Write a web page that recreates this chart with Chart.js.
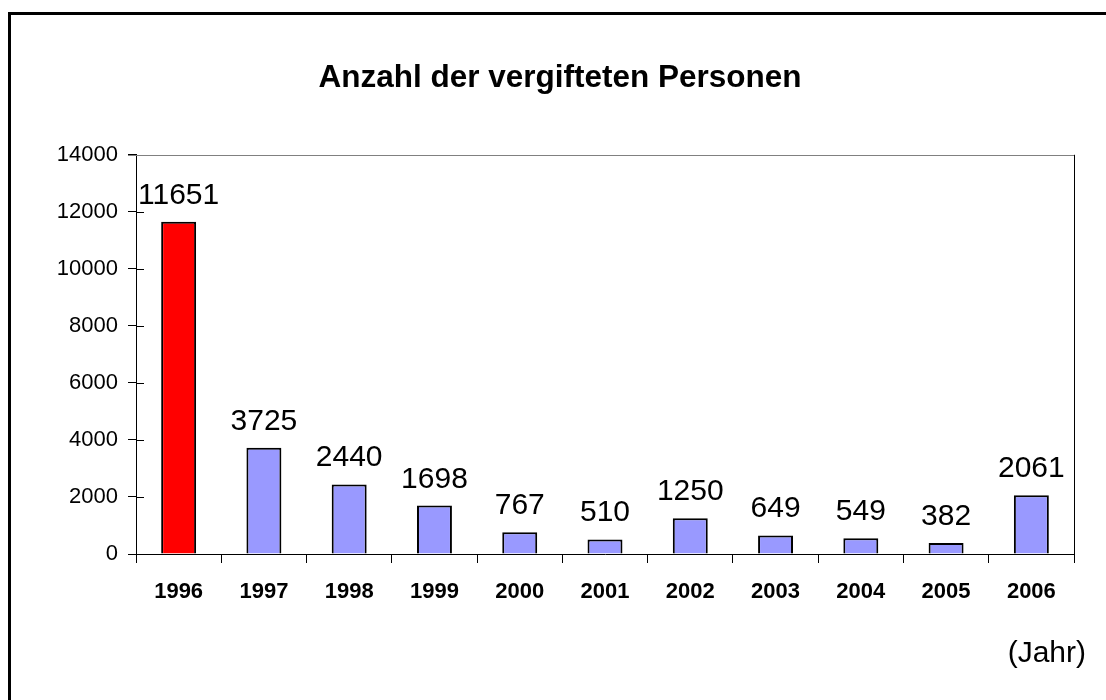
<!DOCTYPE html>
<html>
<head>
<meta charset="utf-8">
<script src="https://cdn.jsdelivr.net/npm/chart.js@4/dist/chart.umd.min.js"></script>
<style>
  html, body { margin: 0; padding: 0; background: #fff; overflow: hidden; }
  #wrap { position: relative; width: 1106px; height: 700px; }
  #frame { position: absolute; left: 8px; top: 12px; width: 1200px; height: 800px; border: 3px solid #000; box-sizing: border-box; pointer-events: none; }
  canvas { position: absolute; left: 0; top: 0; }
</style>
</head>
<body>
<div id="wrap">
  <canvas id="c" width="1106" height="700"></canvas>
  <div id="frame"></div>
</div>
<script>
const years = ['1996', '1997', '1998', '1999', '2000', '2001', '2002', '2003', '2004', '2005', '2006'];
const poisoned = [11651, 3725, 2440, 1698, 767, 510, 1250, 649, 549, 382, 2061];
const barColors = ['#FF0000', '#9999FF', '#9999FF', '#9999FF', '#9999FF', '#9999FF', '#9999FF', '#9999FF', '#9999FF', '#9999FF', '#9999FF'];
const yTickValues = [0, 2000, 4000, 6000, 8000, 10000, 12000, 14000];
const titleText = 'Anzahl der vergifteten Personen';
const unitText = '(Jahr)';

const FONT = '"Liberation Sans", Arial, sans-serif';

const decorPlugin = {
  id: 'decor',
  afterDatasetsDraw(chart) {
    const ctx = chart.ctx;
    const a = chart.chartArea;
    const y = chart.scales.y;
    ctx.save();
    ctx.lineWidth = 1;
    ctx.strokeStyle = '#808080';
    ctx.beginPath();
    ctx.moveTo(a.left - 8, Math.round(a.top) + 0.5);
    ctx.lineTo(a.right, Math.round(a.top) + 0.5);
    ctx.stroke();
    ctx.strokeStyle = '#000';
    ctx.beginPath();
    ctx.moveTo(Math.round(a.right) + 0.5, a.top);
    ctx.lineTo(Math.round(a.right) + 0.5, a.bottom + 8);
    ctx.stroke();
    yTickValues.forEach(v => {
      if (v === 14000) return;
      const py = Math.round(y.getPixelForValue(v)) + 0.5;
      ctx.beginPath();
      ctx.moveTo(a.left, py);
      ctx.lineTo(a.left + 8, py);
      ctx.stroke();
    });
    const meta = chart.getDatasetMeta(0);
    ctx.fillStyle = '#000';
    ctx.font = '30px ' + FONT;
    ctx.textAlign = 'center';
    ctx.textBaseline = 'alphabetic';
    meta.data.forEach((bar, i) => {
      ctx.fillText(String(poisoned[i]), bar.x, bar.y - 18);
    });
    ctx.font = '30px ' + FONT;
    ctx.textAlign = 'right';
    ctx.fillText(unitText, a.right + 12, 662);
    ctx.restore();
  }
};

new Chart(document.getElementById('c'), {
  type: 'bar',
  data: {
    labels: years,
    datasets: [{
      data: poisoned,
      backgroundColor: barColors,
      borderColor: '#000',
      borderWidth: 2,
      categoryPercentage: 1.0,
      barPercentage: 0.41
    }]
  },
  options: {
    responsive: false,
    animation: false,
    events: [],
    layout: { padding: { left: 46, right: 32, top: 0, bottom: 0 } },
    plugins: {
      legend: { display: false },
      tooltip: { enabled: false },
      title: {
        display: true,
        text: titleText,
        color: '#000',
        font: { family: FONT, size: 31.5, weight: 'bold', lineHeight: 1.2 },
        padding: { top: 59, bottom: 58 }
      }
    },
    scales: {
      x: {
        grid: { display: true, drawOnChartArea: false, drawTicks: true, tickLength: 9, color: '#000', offset: true },
        border: { display: true, color: '#000', width: 1 },
        ticks: { color: '#000', font: { family: FONT, size: 22, weight: 'bold' }, padding: 16, maxRotation: 0, autoSkip: false },
        afterFit(scale) { scale.height = 146; }
      },
      y: {
        min: 0,
        max: 14000,
        afterBuildTicks(scale) { scale.ticks = yTickValues.map(v => ({ value: v })); },
        grid: { display: true, drawOnChartArea: false, drawTicks: true, tickLength: 8, color: '#000' },
        border: { display: true, color: '#000', width: 1 },
        ticks: { color: '#000', font: { family: FONT, size: 22 }, padding: 10, callback: v => String(v) },
        afterFit(scale) { scale.width = 90; }
      }
    }
  },
  plugins: [decorPlugin]
});
</script>
</body>
</html>
